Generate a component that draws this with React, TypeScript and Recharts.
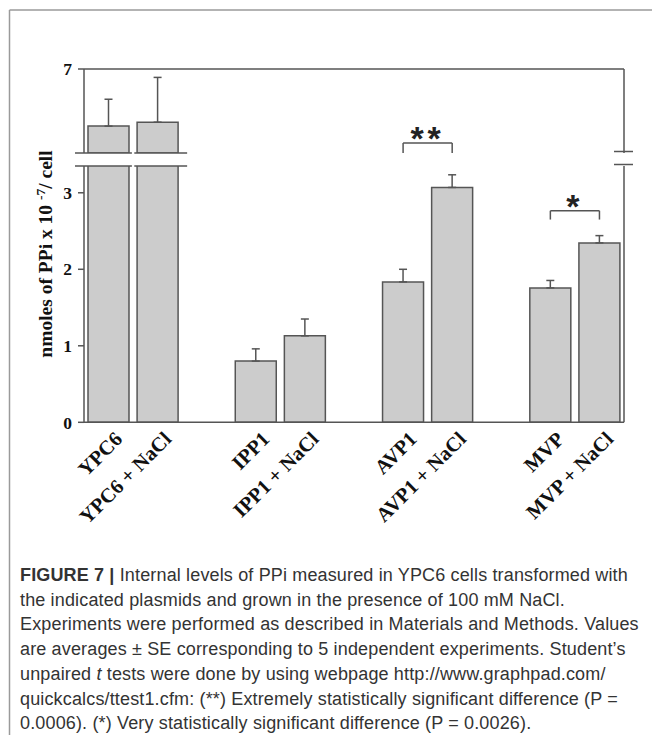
import React from 'react';
import { BarChart, Bar, XAxis, YAxis, ErrorBar, ReferenceLine } from 'recharts';

// ---------- data ----------
const categories = ['YPC6', 'YPC6 + NaCl', ' ', 'IPP1', 'IPP1 + NaCl', '  ', 'AVP1', 'AVP1 + NaCl', '   ', 'MVP', 'MVP + NaCl'];
const means: (number | null)[] = [4.96, 5.1, null, 0.8, 1.13, null, 1.835, 3.07, null, 1.757, 2.345];
const errors: (number | null)[] = [0.96, 1.6, null, 0.16, 0.22, null, 0.165, 0.165, null, 0.097, 0.095];
const lowerTicks = [0, 1, 2, 3];
const upperTicks = [7];
const lowerDomain: [number, number] = [0, 3.35];
const upperDomain: [number, number] = [4, 7];
const brackets = [
  { from: 'AVP1', to: 'AVP1 + NaCl', top: 3.65, tip: 3.52, mark: '**' },
  { from: 'MVP', to: 'MVP + NaCl', top: 2.765, tip: 2.65, mark: '*' },
];
const yLabelMain = 'nmoles of PPi x 10 ';
const yLabelSup = '-7';
const yLabelEnd = '/ cell';

// ---------- layout ----------
const W = 652;
const H = 735;
const PLOT_LEFT = 84;
const PLOT_RIGHT = 624;
const UP_TOP = 69;
const UP_BOTTOM = 153;
const LO_TOP = 166;
const LO_BOTTOM = 422.3;
const BAR_SIZE = 41;
const UP_H = 160;
const LO_H = 560;
const X_AXIS_H = 120;

const AXIS_COLOR = '#555';
const BAR_FILL = '#cccccc';
const TEXT_COLOR = '#111';
const SERIF = "'Liberation Serif', 'Times New Roman', serif";
const SANS = "'Liberation Sans', Arial, sans-serif";

const lowerData = categories.map((name, i) => {
  const v = means[i];
  const over = v != null && v > lowerDomain[1];
  return { name, value: v, err: v == null || over || errors[i] == null ? null : [0, errors[i] as number] };
});
const upperData = categories.map((name, i) => {
  const v = means[i];
  const show = v != null && v > lowerDomain[1];
  return { name, value: show ? v : null, err: show && errors[i] != null ? [0, errors[i] as number] : null };
});

const tickStyle = { fontFamily: SERIF, fontWeight: 700, fontSize: 17.5, fill: TEXT_COLOR };

const XTick = (props: any) => {
  const { x, y, payload } = props;
  const label = String(payload?.value ?? '');
  if (!label.trim()) return <g />;
  const ax = x + 15;
  const ay = y + 10;
  return (
    <text
      x={ax}
      y={ay}
      transform={`rotate(-45 ${ax} ${ay})`}
      textAnchor="end"
      fontFamily={SERIF}
      fontWeight={700}
      fontSize={20.5}
      fill={TEXT_COLOR}
    >
      {label}
    </text>
  );
};

const band = (PLOT_RIGHT - PLOT_LEFT) / categories.length;
const breakGapX = PLOT_LEFT + band;
const breakLeftX1 = PLOT_LEFT - 9;
const breakLeftX2 = PLOT_LEFT + 2 * band - (band - BAR_SIZE) / 2 + 9;

export default function App() {
  return (
    <div style={{ position: 'absolute', left: 0, top: 0, width: W, height: H, background: '#fff', overflow: 'hidden' }}>
      {/* upper segment */}
      <div style={{ position: 'absolute', left: 0, top: 0 }}>
        <BarChart
          width={W}
          height={UP_H}
          data={upperData}
          margin={{ top: UP_TOP - 30, right: 0, bottom: UP_H - UP_BOTTOM, left: 0 }}
        >
          <XAxis
            dataKey="name"
            orientation="top"
            height={30}
            tick={false}
            tickLine={false}
            axisLine={{ stroke: AXIS_COLOR, strokeWidth: 1.5 }}
            interval={0}
          />
          <YAxis
            width={PLOT_LEFT}
            domain={upperDomain}
            ticks={upperTicks}
            allowDataOverflow
            tickSize={6}
            tickMargin={6}
            tick={tickStyle}
            tickLine={{ stroke: AXIS_COLOR, strokeWidth: 1.5 }}
            axisLine={{ stroke: AXIS_COLOR, strokeWidth: 1.5 }}
          />
          <YAxis
            yAxisId="r"
            orientation="right"
            width={W - PLOT_RIGHT}
            domain={upperDomain}
            tick={false}
            tickLine={false}
            axisLine={{ stroke: AXIS_COLOR, strokeWidth: 1.5 }}
          />
          <Bar dataKey="value" barSize={BAR_SIZE} fill={BAR_FILL} stroke={AXIS_COLOR} strokeWidth={1.5} isAnimationActive={false}>
            <ErrorBar dataKey="err" width={4} stroke={AXIS_COLOR} strokeWidth={1.5} direction="y" />
          </Bar>
        </BarChart>
      </div>

      {/* lower segment */}
      <div style={{ position: 'absolute', left: 0, top: 0 }}>
        <BarChart
          width={W}
          height={LO_H}
          data={lowerData}
          margin={{ top: LO_TOP, right: 0, bottom: LO_H - LO_BOTTOM - X_AXIS_H, left: 0 }}
        >
          <XAxis
            dataKey="name"
            height={X_AXIS_H}
            tick={<XTick />}
            tickLine={false}
            axisLine={{ stroke: AXIS_COLOR, strokeWidth: 1.5 }}
            interval={0}
          />
          <YAxis
            width={PLOT_LEFT}
            domain={lowerDomain}
            ticks={lowerTicks}
            allowDataOverflow
            tickSize={6}
            tickMargin={6}
            tick={tickStyle}
            tickLine={{ stroke: AXIS_COLOR, strokeWidth: 1.5 }}
            axisLine={{ stroke: AXIS_COLOR, strokeWidth: 1.5 }}
          />
          <YAxis
            yAxisId="r"
            orientation="right"
            width={W - PLOT_RIGHT}
            domain={lowerDomain}
            tick={false}
            tickLine={false}
            axisLine={{ stroke: AXIS_COLOR, strokeWidth: 1.5 }}
          />
          <Bar dataKey="value" barSize={BAR_SIZE} fill={BAR_FILL} stroke={AXIS_COLOR} strokeWidth={1.5} isAnimationActive={false}>
            <ErrorBar dataKey="err" width={4} stroke={AXIS_COLOR} strokeWidth={1.5} direction="y" />
          </Bar>
          {brackets.map((b) => (
            <ReferenceLine
              key={b.mark + 'top'}
              segment={[{ x: b.from, y: b.top }, { x: b.to, y: b.top }]}
              stroke={AXIS_COLOR}
              strokeWidth={1.5}
              ifOverflow="visible"
              label={{ value: b.mark, position: 'top', offset: -7, fontSize: 34, fontWeight: 700, fill: '#222', fontFamily: SANS, letterSpacing: 4 }}
            />
          ))}
          {brackets.map((b) => (
            <ReferenceLine
              key={b.mark + 'l'}
              segment={[{ x: b.from, y: b.top }, { x: b.from, y: b.tip }]}
              stroke={AXIS_COLOR}
              strokeWidth={1.5}
              ifOverflow="visible"
            />
          ))}
          {brackets.map((b) => (
            <ReferenceLine
              key={b.mark + 'r'}
              segment={[{ x: b.to, y: b.top }, { x: b.to, y: b.tip }]}
              stroke={AXIS_COLOR}
              strokeWidth={1.5}
              ifOverflow="visible"
            />
          ))}
        </BarChart>
      </div>

      {/* decorations: frame, axis breaks, y label */}
      <svg width={W} height={H} style={{ position: 'absolute', left: 0, top: 0, pointerEvents: 'none' }}>
        <line x1={9.5} y1={10} x2={W} y2={10} stroke="#9a9a9a" strokeWidth={1.5} />
        <line x1={9.5} y1={10} x2={9.5} y2={H} stroke="#9a9a9a" strokeWidth={1.5} />
        {[UP_BOTTOM, LO_TOP].map((yy) => (
          <g key={yy}>
            <line x1={breakLeftX1} y1={yy} x2={breakGapX - 1.2} y2={yy} stroke={AXIS_COLOR} strokeWidth={1.5} />
            <line x1={breakGapX + 1.2} y1={yy} x2={breakLeftX2} y2={yy} stroke={AXIS_COLOR} strokeWidth={1.5} />
            <line x1={PLOT_RIGHT - 10} y1={yy - 1.5} x2={PLOT_RIGHT + 9} y2={yy - 1.5} stroke={AXIS_COLOR} strokeWidth={1.5} />
          </g>
        ))}
        <text
          x={52}
          y={254}
          transform="rotate(-90 52 254)"
          textAnchor="middle"
          fontFamily={SERIF}
          fontWeight={700}
          fontSize={19.5}
          fill={TEXT_COLOR}
        >
          {yLabelMain}
          <tspan dy={-7} fontSize={13.5}>{yLabelSup}</tspan>
          <tspan dy={7}>{yLabelEnd}</tspan>
        </text>
      </svg>

      {/* caption */}
      <div
        style={{
          position: 'absolute',
          left: 20,
          top: 563,
          fontFamily: SANS,
          fontSize: 18,
          letterSpacing: '0.15px',
          lineHeight: '24.7px',
          color: '#333',
          whiteSpace: 'nowrap',
        }}
      >
        <div>
          <b>FIGURE 7 |</b> Internal levels of PPi measured in YPC6 cells transformed with
        </div>
        <div>the indicated plasmids and grown in the presence of 100 mM NaCl.</div>
        <div>Experiments were performed as described in Materials and Methods. Values</div>
        <div>are averages ± SE corresponding to 5 independent experiments. Student’s</div>
        <div>
          unpaired <i>t</i> tests were done by using webpage http://www.graphpad.com/
        </div>
        <div>quickcalcs/ttest1.cfm: (**) Extremely statistically significant difference (P =</div>
        <div>0.0006). (*) Very statistically significant difference (P = 0.0026).</div>
      </div>
    </div>
  );
}
